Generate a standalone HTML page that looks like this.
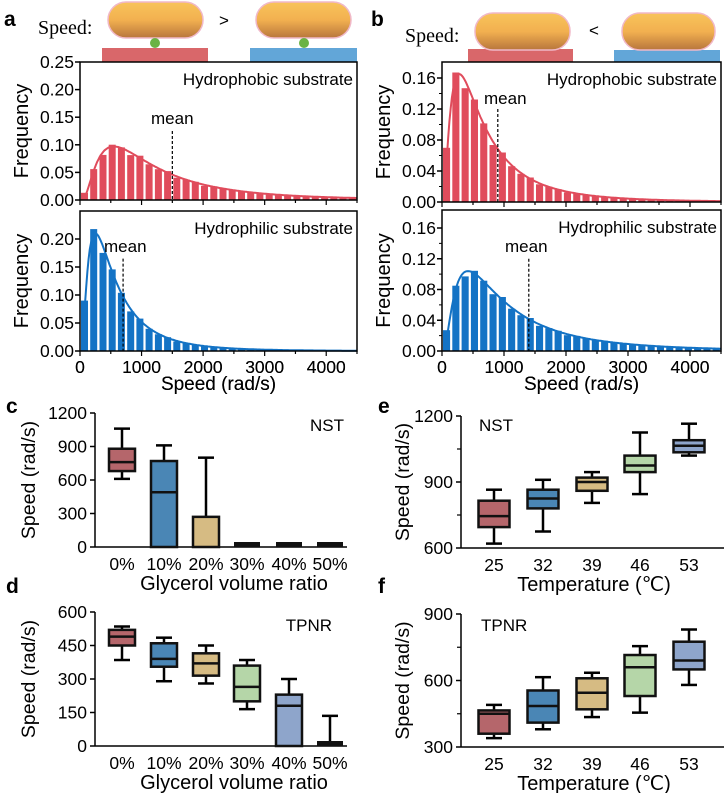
<!DOCTYPE html>
<html><head><meta charset="utf-8"><style>
html,body{margin:0;padding:0;background:#fff}
svg{display:block;font-family:"Liberation Sans",sans-serif}
</style></head><body>
<svg id="s" width="725" height="793" viewBox="0 0 725 793" xmlns="http://www.w3.org/2000/svg">
<defs>
<linearGradient id="cap" x1="0" y1="0" x2="0" y2="1">
<stop offset="0" stop-color="#f8c45a"/><stop offset="0.5" stop-color="#f2b050"/><stop offset="1" stop-color="#b8763c"/>
</linearGradient>
</defs>
<g font-size="21" font-weight="bold">
<text x="4" y="26">a</text><text x="371" y="26">b</text>
<text x="6" y="413">c</text><text x="6" y="593">d</text>
<text x="378" y="413">e</text><text x="378" y="593">f</text>
</g>
<g font-family="Liberation Serif,serif" font-size="20">
<text x="38" y="34">Speed:</text><text x="405" y="42">Speed:</text>
</g>
<g font-size="17"><text x="219" y="26">&gt;</text><text x="589" y="36">&lt;</text></g>
<rect x="102" y="48" width="106" height="14" fill="#d9676a"/>
<rect x="250" y="48" width="107" height="14" fill="#62a6d8"/>
<rect x="468" y="49" width="105" height="13" fill="#d9676a"/>
<rect x="614" y="50" width="106" height="12" fill="#62a6d8"/>
<rect x="108" y="2" width="95" height="36" rx="18" fill="url(#cap)" stroke="#f0b8c8" stroke-width="1.5"/>
<rect x="256" y="2" width="95" height="36" rx="18" fill="url(#cap)" stroke="#f0b8c8" stroke-width="1.5"/>
<rect x="475" y="13" width="95" height="37" rx="18" fill="url(#cap)" stroke="#f0b8c8" stroke-width="1.5"/>
<rect x="622" y="13" width="93" height="37" rx="18" fill="url(#cap)" stroke="#f0b8c8" stroke-width="1.5"/>
<circle cx="155" cy="43" r="5" fill="#6ab344"/><circle cx="304" cy="43" r="5" fill="#6ab344"/>
<g id="plots"></g>
</svg>
<script>
var G=document.getElementById('plots'),h='';
function T(x,y,t,o){h+='<text x="'+x+'" y="'+y+'" '+(o||'')+'>'+t+'</text>';}
function L(x1,y1,x2,y2,w,c,o){h+='<line x1="'+x1+'" y1="'+y1+'" x2="'+x2+'" y2="'+y2+'" stroke="'+(c||'#000')+'" stroke-width="'+(w||1.5)+'" '+(o||'')+'/>';}
function hist(o){
 var sx=function(v){return o.x0+v*(o.x1-o.x0)/4500;}, sy=function(v){return o.yb-v*o.ys;};
 var s2=o.s*o.s, mu=Math.log(o.mode)+s2;
 function f(x){var p=Math.exp(-Math.pow(Math.log(x)-mu,2)/(2*s2))/x, q=Math.exp(-Math.pow(Math.log(o.mode)-mu,2)/(2*s2))/o.mode;return o.peak*p/q;}
 for(var i=0;i<30;i++){var a=i*150,b=a+150,c=a+75,v=f(c)*(1+0.06*Math.sin(i*2.3));
  if(i==0&&o.first!==undefined)v=o.first;
  var X=sx(a)+1,W=sx(b)-sx(a)-2.2;h+='<rect x="'+X.toFixed(1)+'" y="'+sy(v).toFixed(1)+'" width="'+W.toFixed(1)+'" height="'+(o.yb-sy(v)).toFixed(1)+'" fill="'+o.col+'"/>';}
 var p='';for(var x=60;x<=4500;x+=20){p+=(p?'L':'M')+sx(x).toFixed(1)+','+sy(f(x)).toFixed(1);}
 h+='<path d="'+p+'" fill="none" stroke="'+o.col+'" stroke-width="2"/>';
 h+='<rect x="'+o.x0+'" y="'+o.yt+'" width="'+(o.x1-o.x0)+'" height="'+(o.yb-o.yt)+'" fill="none" stroke="#000" stroke-width="1.5"/>';
 o.ticks.forEach(function(t){var y=sy(t);L(o.x0-5,y,o.x0,y);T(o.x0-6,y+6,t.toFixed(2),'font-size="17.5" text-anchor="end"');});
 (o.minor||[]).forEach(function(t){L(o.x0-3,sy(t),o.x0,sy(t),1);});
 for(var k=0;k<=4500;k+=500){L(sx(k),o.yb,sx(k),o.yb+(k%1000?3:5),1.2);}
 var mx=sx(o.mean);L(mx,sy(o.mtop),mx,o.yb,1.2,'#000','stroke-dasharray="3,2"');
 T(o.mlx,o.mly,'mean','font-size="17"');
 T(o.x1-4,o.yt+23,o.title,'font-size="17" text-anchor="end"');
 T(o.x0-52,(o.yt+o.yb)/2,'Frequency','font-size="20" text-anchor="middle" transform="rotate(-90 '+(o.x0-52)+' '+((o.yt+o.yb)/2)+')"');
 [0,1000,2000,3000,4000].forEach(function(k){T(sx(k),373,k,'font-size="17.5" text-anchor="middle"');});
 T((o.x0+o.x1)/2,390,'Speed (rad/s)','font-size="19" text-anchor="middle"');
}
var R='#e04c5c',B='#1473c5';
hist({x0:80,x1:357,yt:62,yb:200,ys:138/0.25,col:R,mode:550,peak:0.097,s:0.82,mean:1500,mtop:0.125,mlx:151,mly:124,title:'Hydrophobic substrate',ticks:[0,0.05,0.1,0.15,0.2,0.25],first:0.013});
hist({x0:80,x1:357,yt:211,yb:351,ys:140/0.25,col:B,mode:250,peak:0.21,s:0.83,mean:700,mtop:0.165,mlx:104,mly:252,title:'Hydrophilic substrate',ticks:[0,0.05,0.1,0.15,0.2],first:0.09});
hist({x0:442,x1:721,yt:62,yb:202,ys:124/0.16,col:R,mode:280,peak:0.165,s:0.88,mean:900,mtop:0.12,mlx:484,mly:104,title:'Hydrophobic substrate',ticks:[0,0.04,0.08,0.12,0.16],minor:[0.02,0.06,0.1,0.14],first:0.07});
hist({x0:442,x1:721,yt:210,yb:351,ys:123/0.16,col:B,mode:420,peak:0.104,s:0.89,mean:1400,mtop:0.12,mlx:505,mly:252,title:'Hydrophilic substrate',ticks:[0,0.04,0.08,0.12,0.16],minor:[0.02,0.06,0.1,0.14],first:0.027});
var C=['#b5666b','#4a86b5','#d6bb83','#b5d6a8','#8ea5cb'];
function box(o){
 var sy=function(v){return o.yb-(v-o.ymin)*(o.yb-o.yt)/(o.ymax-o.ymin);};
 L(o.x0,o.yt,o.x0,o.yb);L(o.x0,o.yb,o.xr,o.yb);
 o.ticks.forEach(function(t){L(o.x0-5,sy(t),o.x0,sy(t));T(o.x0-8,sy(t)+6,t,'font-size="17.5" text-anchor="end"');});
 (o.minor||[]).forEach(function(t){L(o.x0-4,sy(t),o.x0,sy(t),1.2);});
 o.d.forEach(function(d,i){var x=o.cx[i],w=o.bw;
  if(d[1]-d[0]<1e-9&&d[2]==d[0]){ if(d[4]>d[3]){L(x,sy(d[4]),x,sy(d[3]),2.5);L(x-8,sy(d[4]),x+8,sy(d[4]),2.5);}
   h+='<rect x="'+(x-w/2)+'" y="'+(o.yb-5)+'" width="'+w+'" height="5" fill="#111"/>';return;}
  L(x,sy(d[4]),x,sy(d[1]),2.5);L(x-8,sy(d[4]),x+8,sy(d[4]),2.5);
  if(d[3]<d[0]){L(x,sy(d[3]),x,sy(d[0]),2.5);L(x-8,sy(d[3]),x+8,sy(d[3]),2.5);}
  h+='<rect x="'+(x-w/2)+'" y="'+sy(d[1])+'" width="'+w+'" height="'+(sy(d[0])-sy(d[1]))+'" fill="'+(o.col[i])+'" stroke="#111" stroke-width="2.5"/>';
  if(d[2]>d[0])L(x-w/2,sy(d[2]),x+w/2,sy(d[2]),2.5,'#111');
 });
 o.lab.forEach(function(t,i){T(o.cx[i],o.yb+23,t,'font-size="17.5" text-anchor="middle"');});
 T(o.xlx,o.yb+43,o.xl,'font-size="20" text-anchor="middle"');
 var yc=(o.yt+o.yb)/2;T(o.ylx,yc,'Speed (rad/s)','font-size="19.5" text-anchor="middle" transform="rotate(-90 '+o.ylx+' '+yc+')"');
 T(o.nx,o.ny,o.name,'font-size="17" '+(o.na||''));
}
var gc=[122,164,206,247,289,330],gl=['0%','10%','20%','30%','40%','50%'];
box({x0:95,xr:347,yt:413,yb:547,ymin:0,ymax:1200,ticks:[0,300,600,900,1200],cx:gc,bw:26,col:[C[0],C[1],C[2],C[3],C[4],C[4]],lab:gl,xl:'Glycerol volume ratio',xlx:234,ylx:35,nx:344,ny:431,na:'text-anchor="end"',name:'NST',
 d:[[680,880,760,610,1060],[0,770,490,0,910],[0,270,0,0,800],[0,0,0,0,0],[0,0,0,0,0],[0,0,0,0,0]]});
box({x0:95,xr:347,yt:612,yb:746,ymin:0,ymax:600,ticks:[0,150,300,450,600],cx:gc,bw:26,col:C.concat([C[4]]),lab:gl,xl:'Glycerol volume ratio',xlx:234,ylx:35,nx:332,ny:631,na:'text-anchor="end"',name:'TPNR',
 d:[[450,520,490,385,535],[355,460,390,290,485],[315,415,370,280,450],[200,360,265,165,385],[0,230,180,0,300],[0,0,0,0,135]]});
var tc=[494,543,592,640,689],tl=['25','32','39','46','53'];
box({x0:461,xr:724,yt:416,yb:548,ymin:600,ymax:1200,ticks:[600,900,1200],minor:[750,1050],cx:tc,bw:31,col:C,lab:tl,xl:'Temperature (\u2103)',xlx:594,ylx:409,nx:479,ny:431,name:'NST',
 d:[[695,815,745,620,865],[780,865,825,675,910],[860,920,900,805,945],[945,1020,975,845,1125],[1035,1090,1065,1020,1165]]});
box({x0:461,xr:724,yt:614,yb:747,ymin:300,ymax:900,ticks:[300,600,900],minor:[450,750],cx:tc,bw:31,col:C,lab:tl,xl:'Temperature (\u2103)',xlx:594,ylx:409,nx:481,ny:631,name:'TPNR',
 d:[[360,465,450,340,490],[410,555,485,380,615],[470,610,545,435,635],[530,715,660,455,755],[650,775,690,580,830]]});
G.innerHTML=h;
</script>
</body></html>
